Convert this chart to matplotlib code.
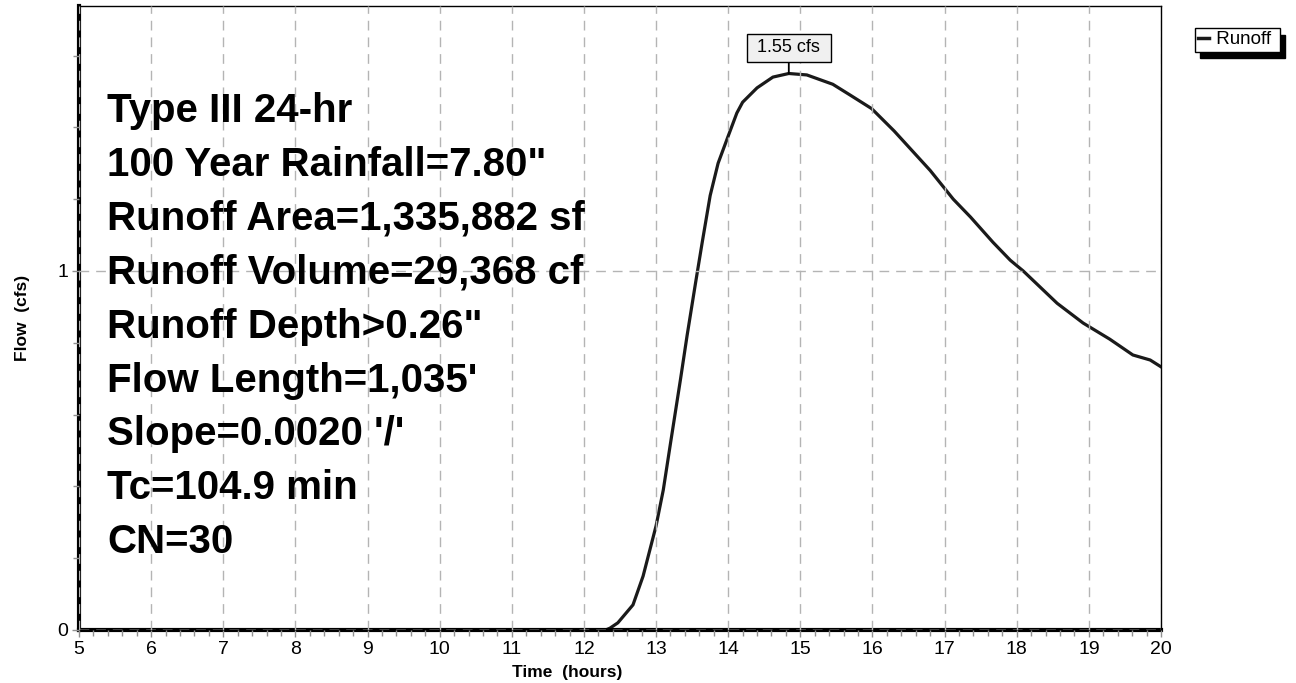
import numpy as np
import matplotlib
matplotlib.use("Agg")
from matplotlib import pyplot as plt
from matplotlib.ticker import MultipleLocator

# hydrograph
time_hr = [5.0, 12.3, 12.36, 12.47, 12.68, 12.82, 13.0, 13.1, 13.2, 13.34,
           13.43, 13.55, 13.64, 13.75, 13.86, 13.98, 14.12, 14.2, 14.4, 14.62,
           14.84, 15.09, 15.45, 15.69, 15.99, 16.3, 16.8, 16.96, 17.12, 17.36,
           17.67, 17.91, 18.09, 18.56, 18.92, 19.29, 19.61, 19.85, 20.0]
flow_cfs = [0, 0, 0.005, 0.02, 0.07, 0.15, 0.29, 0.39, 0.52, 0.70,
            0.82, 0.97, 1.08, 1.21, 1.30, 1.365, 1.44, 1.47, 1.51, 1.54,
            1.55, 1.546, 1.52, 1.49, 1.452, 1.39, 1.28, 1.24, 1.20, 1.15,
            1.08, 1.03, 1.0, 0.91, 0.855, 0.81, 0.766, 0.752, 0.733]
series_name = "Runoff"
peak_label = "1.55 cfs"
info_lines = ["Type III 24-hr",
              "100 Year Rainfall=7.80\"",
              "Runoff Area=1,335,882 sf",
              "Runoff Volume=29,368 cf",
              "Runoff Depth>0.26\"",
              "Flow Length=1,035'",
              "Slope=0.0020 '/'",
              "Tc=104.9 min",
              "CN=30"]

plt.rcParams['font.family'] = ['Liberation Sans', 'DejaVu Sans']

W, H = 1296, 683
fig = plt.figure(figsize=(W/100, H/100), dpi=100)
ax = fig.add_axes([79/W, 53/H, (1161-79)/W, (630-6)/H])

t = np.array(time_hr)
q = np.array(flow_cfs)
ax.plot(t, q, color='#1a1a1a', lw=2.3, label=series_name, zorder=2,
        solid_joinstyle='round')

ax.set_xlim(5, 20)
ax.set_ylim(0, 1.738)
ax.xaxis.set_major_locator(MultipleLocator(1))
ax.xaxis.set_minor_locator(MultipleLocator(0.2))
ax.yaxis.set_major_locator(MultipleLocator(1))
ax.yaxis.set_minor_locator(MultipleLocator(0.2))
ax.tick_params(which='both', direction='out', color='#909090', width=1,
               labelsize=14, labelcolor='black')
ax.tick_params(which='major', length=5, pad=3)
ax.tick_params(which='minor', length=4)

grid_kw = dict(color='#b4b4b4', lw=1, dashes=(7, 5))
ax.grid(True, which='major', axis='both', zorder=3, **grid_kw)
ax.set_axisbelow(False)
ax.axhline(0, zorder=4, **grid_kw)

ax.spines['left'].set_linewidth(3)
ax.spines['bottom'].set_linewidth(3)
ax.spines['top'].set_linewidth(1)
ax.spines['right'].set_linewidth(1)

ax.set_xlabel("Time  (hours)", fontsize=12.5, fontweight='bold')
ax.xaxis.set_label_coords((567-79)/1082, -(665-630)/624)
ax.set_ylabel("Flow  (cfs)", fontsize=12.5, fontweight='bold')
ax.yaxis.set_label_coords(-(79-30)/1082, 0.5)

# peak callout
i_pk = int(np.argmax(q))
ax.annotate(" " + peak_label + " ", xy=(t[i_pk], q[i_pk]), xytext=(0, 12.5),
            textcoords='offset points', ha='center', va='bottom',
            fontsize=13,
            bbox=dict(boxstyle='square,pad=0.3', fc='#f0f0f0', ec='black', lw=1),
            arrowprops=dict(arrowstyle='-', color='black', lw=1.3,
                            shrinkA=0, shrinkB=0))

fig.text(107/W, 1 - 92/H, "\n".join(info_lines), fontsize=29,
         fontweight='bold', va='top', ha='left', linespacing=1.53, zorder=5)

leg = ax.legend([" " + series_name + " "], loc='upper left',
                bbox_to_anchor=(1198/W, 1 - 31/H),
                bbox_transform=fig.transFigure, fontsize=13.5, frameon=True,
                fancybox=False, handlelength=0.6, handletextpad=0.1,
                borderpad=0.0, borderaxespad=0,
                shadow={'color': 'black', 'alpha': 1, 'ox': 4, 'oy': -5})
leg.get_frame().set_edgecolor('black')
leg.get_frame().set_linewidth(1)
leg.get_frame().set_boxstyle('square', pad=0.18)
for h in leg.get_lines():
    h.set_linewidth(2.5)

fig.savefig("out.png", dpi=100)
